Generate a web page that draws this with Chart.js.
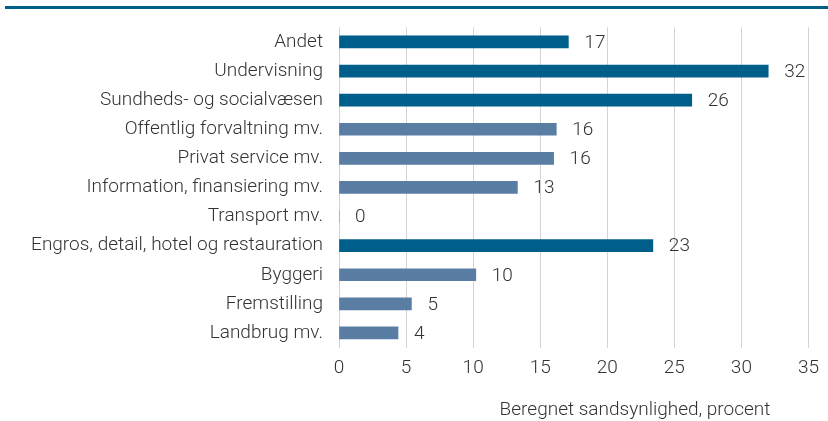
<!DOCTYPE html>
<html><head><meta charset="utf-8">
<script src="https://cdn.jsdelivr.net/npm/chart.js@4.4.1/dist/chart.umd.min.js"></script>
<style>html,body{margin:0;padding:0;background:#fff}#w{width:828px;height:421px;position:relative}</style>
</head><body><div id="w"><canvas id="c"></canvas></div>
<script>
const categories = ["Andet","Undervisning","Sundheds- og socialvæsen","Offentlig forvaltning mv.","Privat service mv.","Information, finansiering mv.","Transport mv.","Engros, detail, hotel og restauration","Byggeri","Fremstilling","Landbrug mv."];
const values = [17.1, 32.0, 26.3, 16.2, 16.0, 13.3, 0, 23.4, 10.2, 5.4, 4.4];
const highlighted = [true, true, true, false, false, false, false, true, false, false, false];
const xTicks = [0,5,10,15,20,25,30,35];
const axisTitle = "Beregnet sandsynlighed, procent";
const DARK = "#005f8a", LIGHT = "#5a7ea3", TXT = "#333333";
const FONT = "Roboto";
const FS = 19, FW = 300;

const decor = {
  id: 'decor',
  afterDraw(chart) {
    const ctx = chart.ctx;
    ctx.save();
    ctx.fillStyle = DARK;
    ctx.fillRect(5, 6, 823, 3);
    ctx.fillStyle = TXT;
    ctx.font = FW + " " + FS + "px " + FONT;
    ctx.textAlign = "center"; ctx.textBaseline = "middle";
    ctx.fillText(axisTitle, 635, 410);
    ctx.textAlign = "left";
    const meta = chart.getDatasetMeta(0);
    meta.data.forEach((bar, i) => {
      ctx.fillText(String(Math.round(values[i])), bar.x + 16, bar.y + 1);
    });
    ctx.restore();
  }
};

new Chart(document.getElementById('c'), {
  type: 'bar',
  data: { labels: categories, datasets: [{ data: values,
    backgroundColor: highlighted.map(h => h ? DARK : LIGHT), borderWidth: 0, barThickness: 12 }] },
  options: {
    indexAxis: 'y', responsive: true, maintainAspectRatio: false, animation: false,
    layout: { padding: { top: 27, right: 19, bottom: 0, left: 0 } },
    plugins: { legend: { display: false }, tooltip: { enabled: false } },
    scales: {
      x: { min: 0, max: 35, afterBuildTicks: s => { s.ticks = xTicks.map(v => ({value: v})); },
        grid: { color: "#d4d4d4", lineWidth: 1, drawTicks: false }, border: { display: false },
        ticks: { color: TXT, font: { family: FONT, size: FS, weight: FW }, padding: 9 },
        afterFit: s => { s.height = 73.5; } },
      y: { grid: { display: false, drawTicks: false }, border: { display: false },
        ticks: { color: TXT, font: { family: FONT, size: FS, weight: FW }, padding: 16, autoSkip: false },
        afterFit: s => { s.width = 339; } }
    }
  },
  plugins: [decor]
});
</script></body></html>
